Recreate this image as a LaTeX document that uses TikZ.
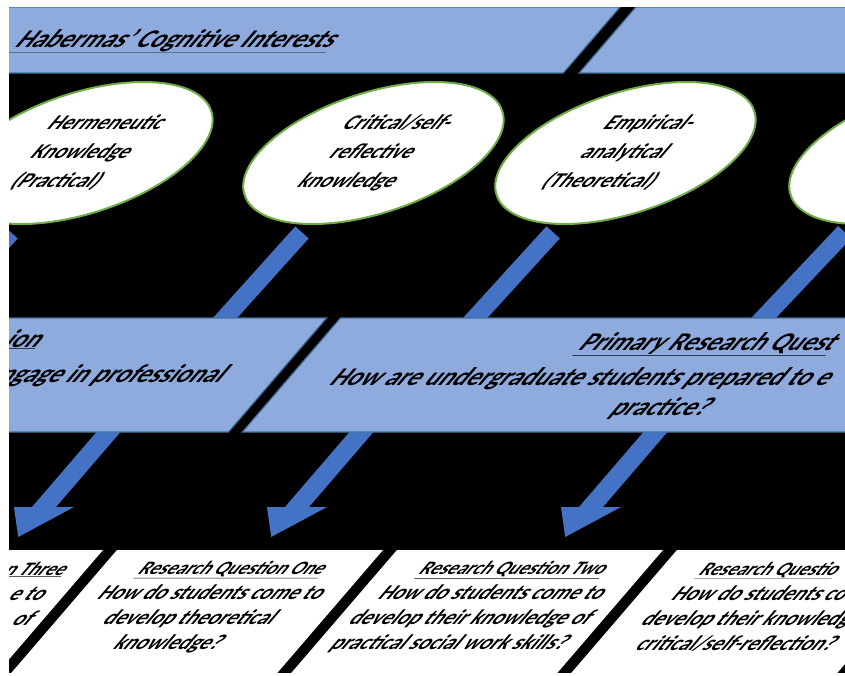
\documentclass[tikz,border=0pt]{standalone}
\usepackage{fontspec}
\setmainfont{Carlito}
\usepackage{tikz}
\usetikzlibrary{shapes.geometric,calc}
\definecolor{bandblue}{HTML}{8FAADC}
\definecolor{bandedge}{HTML}{41719C}
\definecolor{barblue}{HTML}{4472C4}
\definecolor{ringgreen}{HTML}{70AD47}
\tikzset{
    band/.style={rectangle,draw=bandedge,line width=1.2pt,fill=bandblue,inner sep=0pt,transform shape},
    card/.style={rectangle,fill=white,inner sep=0pt,transform shape},
    bubble/.style={ellipse,draw=ringgreen,line width=2pt,fill=white,minimum width=230pt,minimum height=142pt,
        inner sep=0pt,align=center,transform shape,font=\fontsize{21}{29}\selectfont\bfseries},
    bigtext/.style={inner sep=0pt,transform shape,font=\fontsize{25.5}{30}\selectfont\bfseries},
    smalltext/.style={inner sep=0pt,align=center,transform shape,font=\fontsize{21}{25}\selectfont\bfseries},
    bar/.style={draw=barblue,line width=18pt,shorten <=10pt},
    blockarrow/.style={fill=barblue}
}
\newcommand{\qhead}[1]{{\fontsize{19}{25}\selectfont\underline{#1}}}

\begin{document}
\begin{tikzpicture}[x=1pt,y=1pt]
    \useasboundingbox (0,0) rectangle (845,-675);
    \fill[white] (0,0) rectangle (845,-675);
    \begin{scope}
    \clip (9,-7) rectangle (845,-673);
    \fill[black] (9,-7) rectangle (845,-673);
    \begin{scope}[xslant=0.86]
    % top band
    \node[band,minimum width=926pt,minimum height=66pt] at (163,-40) (topa) {};
    \node[band,minimum width=860pt,minimum height=66pt] at (1072,-40) (topb) {};
    \node[bigtext,anchor=base west] at (54,-47) (title) {\underline{Habermas’ Cognitive Interests}};
    % interests
    \node[bubble] at (214,-153) (herm) {Hermeneutic\\Knowledge\\(Practical)};
    \node[bubble] at (505,-153) (crit) {Critical/self-\\reflective\\knowledge};
    \node[bubble] at (757,-153) (emp) {Empirical-\\analytical\\(Theoretical)};
    \node[bubble] at (1051,-153) (herm2) {};
    \coordinate (hermb) at (207,-330);
    \coordinate (critb) at (498,-330);
    \coordinate (empb) at (748,-330);
    \coordinate (herm2b) at (1036,-330);
    \foreach \e in {herm,crit,emp,herm2}
        \draw[bar] (\e) -- (\e b);
    % arrows down to the questions
    \coordinate (la) at (480,-425);
    \coordinate (lt) at (480,-537);
    \coordinate (oa) at (733,-425);
    \coordinate (ot) at (733,-537);
    \coordinate (ta) at (1027,-425);
    \coordinate (tt) at (1027,-537);
    \foreach \s/\t in {la/lt,oa/ot,ta/tt}
        \fill[blockarrow] ($(\s)+(-12,0)$) -- ($(\t)+(-12,30)$) -- ($(\t)+(-30,30)$) -- (\t)
            -- ($(\t)+(30,30)$) -- ($(\t)+(12,30)$) -- ($(\s)+(12,0)$) -- cycle;
    % primary question band
    \node[band,minimum width=832pt,minimum height=114pt] at (184,-375) (prima) {};
    \node[band,minimum width=826pt,minimum height=114pt] at (1027,-375) (primb) {};
    \node[bigtext,anchor=base east] at (335,-347) (pa1) {\underline{ion}};
    \node[bigtext,anchor=base east] at (548,-382) (pa2) {ngage in professional};
    \node[bigtext,anchor=base west] at (878,-350) (pb1) {\underline{Primary Research Quest}};
    \node[bigtext,anchor=base west] at (659,-385) (pb2) {How are undergraduate students prepared to e};
    \node[bigtext,anchor=base] at (1013,-415) (pb3) {practice?};
    % research questions
    \node[card,minimum width=266pt,minimum height=150pt] at (443,-625) (rqa) {};
    \node[card,minimum width=266pt,minimum height=150pt] at (723,-625) (rq1) {};
    \node[card,minimum width=266pt,minimum height=150pt] at (1003,-625) (rq2) {};
    \node[card,minimum width=266pt,minimum height=150pt] at (1283,-625) (rq3) {};
    \node[card,minimum width=266pt,minimum height=150pt] at (1563,-625) (rqb) {};
    \node[smalltext,anchor=base east] at (557,-575) (qa1) {\qhead{n Three}};
    \node[smalltext,anchor=base east] at (557,-600) (qa2) {e to};
    \node[smalltext,anchor=base east] at (566,-625) (qa3) {of};
    \node[smalltext] at (723,-607) (q1) {\qhead{Research Question One}\\How do students come to\\develop theoretical\\knowledge?};
    \node[smalltext] at (1004,-607) (q2) {\qhead{Research Question Two}\\How do students come to\\develop their knowledge of\\practical social work skills?};
    \node[smalltext,anchor=base west] at (1192,-575) (q31) {\qhead{Research Questio}};
    \node[smalltext,anchor=base west] at (1186,-600) (q32) {How do students co};
    \node[smalltext,anchor=base west] at (1177,-625) (q33) {develop their knowledg};
    \node[smalltext,anchor=base west] at (1193,-650) (q34) {critical/self-reflection?};
    \end{scope}
    \end{scope}
\end{tikzpicture}
\end{document}
